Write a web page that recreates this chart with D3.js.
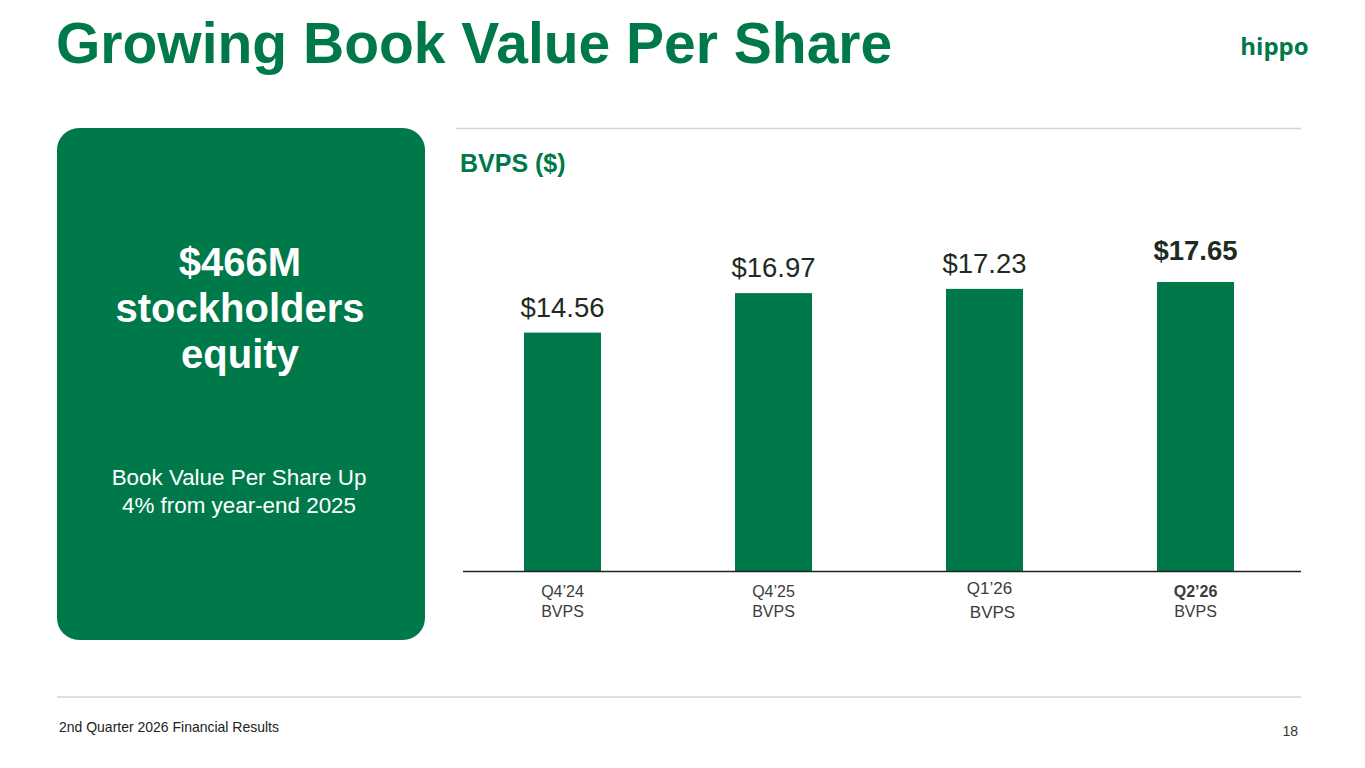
<!DOCTYPE html>
<html>
<head>
<meta charset="utf-8">
<script src="https://cdn.jsdelivr.net/npm/d3@7"></script>
<style>
  body { margin: 0; background: #fff; }
  svg { display: block; font-family: "Liberation Sans", Arial, sans-serif; }
</style>
</head>
<body>
<script>
// data
var quarters = ["Q4\u201924", "Q4\u201925", "Q1\u201926", "Q2\u201926"],
  bvps = [14.56, 16.97, 17.23, 17.65],
  valueLabels = ["$14.56", "$16.97", "$17.23", "$17.65"],
  subLabels = ["BVPS", "BVPS", "BVPS", "BVPS"];

var width = 1365,
  height = 768,
  green = "#00794a",
  ink = "#1e2b22";

var svg = d3.select("body")
  .append("svg")
  .attr("width", width)
  .attr("height", height);

//----------Title + logo----------
svg.append("text")
  .attr("x", 56)
  .attr("y", 63)
  .attr("fill", green)
  .style("font-size", "57px")
  .style("font-weight", "bold")
  .text("Growing Book Value Per Share");

svg.append("text")
  .attr("x", 1274.5)
  .attr("y", 55)
  .attr("text-anchor", "middle")
  .attr("fill", green)
  .style("font-family", "'Open Sans', sans-serif")
  .style("font-size", "24px")
  .style("font-weight", "bold")
  .text("hippo");

//----------Left panel----------
svg.append("rect")
  .attr("x", 57)
  .attr("y", 128)
  .attr("width", 368)
  .attr("height", 512)
  .attr("rx", 22)
  .attr("fill", green);

var big = ["$466M", "stockholders", "equity"];
svg.append("g").selectAll("text")
  .data(big)
  .enter()
  .append("text")
  .attr("x", 240)
  .attr("y", function (d, i) { return 276 + i * 46; })
  .attr("text-anchor", "middle")
  .attr("fill", "#fff")
  .style("font-size", "40px")
  .style("font-weight", "bold")
  .text(function (d) { return d; });

var small = ["Book Value Per Share Up", "4% from year-end 2025"];
svg.append("g").selectAll("text")
  .data(small)
  .enter()
  .append("text")
  .attr("x", 239)
  .attr("y", function (d, i) { return 485 + i * 28; })
  .attr("text-anchor", "middle")
  .attr("fill", "#fff")
  .style("font-size", "22.4px")
  .text(function (d) { return d; });

//----------Chart----------
svg.append("line")
  .attr("x1", 456).attr("x2", 1301)
  .attr("y1", 128.5).attr("y2", 128.5)
  .attr("stroke", "#d4d4d4")
  .attr("stroke-width", 1.5);

svg.append("text")
  .attr("x", 460)
  .attr("y", 172)
  .attr("fill", green)
  .style("font-size", "25px")
  .style("font-weight", "bold")
  .text("BVPS ($)");

var baseY = 571;

var xScale = d3.scaleBand()
  .domain(quarters)
  .range([457, 1301])
  .paddingInner(0.635)
  .paddingOuter(0.3175);

var yScale = d3.scaleLinear()
  .domain([0, 17.65])
  .range([baseY, 282]);

svg.selectAll("rect.bar")
  .data(bvps)
  .enter()
  .append("rect")
  .attr("class", "bar")
  .attr("x", function (d, i) { return xScale(quarters[i]); })
  .attr("y", function (d) { return yScale(d); })
  .attr("width", xScale.bandwidth())
  .attr("height", function (d) { return baseY - yScale(d); })
  .attr("fill", green);

svg.selectAll("text.val")
  .data(bvps)
  .enter()
  .append("text")
  .attr("class", "val")
  .attr("x", function (d, i) { return xScale(quarters[i]) + xScale.bandwidth() / 2; })
  .attr("y", function (d, i) { return yScale(d) - (i === 3 ? 22 : 16); })
  .attr("text-anchor", "middle")
  .attr("fill", ink)
  .style("font-size", "27.5px")
  .style("font-weight", function (d, i) { return i === 3 ? "bold" : "normal"; })
  .text(function (d, i) { return valueLabels[i]; });

// axis with no ticks, just the baseline and two-line labels
var xAxis = d3.axisBottom(xScale).tickSize(0).tickFormat("");
var axisG = svg.append("g")
  .attr("transform", "translate(0," + baseY + ")")
  .call(xAxis);
axisG.select(".domain")
  .attr("d", "M463,0.5H1301")
  .attr("stroke", "#222")
  .attr("stroke-width", 1.6);

axisG.selectAll(".tick").each(function (d, i) {
  var t = d3.select(this);
  var q1 = i === 2;
  t.append("text")
    .attr("x", q1 ? 5 : 0)
    .attr("y", q1 ? 23 : 26)
    .attr("text-anchor", "middle")
    .attr("fill", "#3c3c3c")
    .style("font-size", q1 ? "17px" : "16px")
    .style("font-weight", i === 3 ? "bold" : "normal")
    .text(quarters[i]);
  t.append("text")
    .attr("x", q1 ? 8 : 0)
    .attr("y", q1 ? 47 : 46)
    .attr("text-anchor", "middle")
    .attr("fill", "#3c3c3c")
    .style("font-size", q1 ? "17px" : "16px")
    .text(subLabels[i]);
});

//----------Footer----------
svg.append("line")
  .attr("x1", 57).attr("x2", 1301)
  .attr("y1", 697).attr("y2", 697)
  .attr("stroke", "#d4d4d4")
  .attr("stroke-width", 1.5);

svg.append("text")
  .attr("x", 59)
  .attr("y", 732)
  .attr("fill", "#222")
  .attr("textLength", 220)
  .attr("lengthAdjust", "spacingAndGlyphs")
  .style("font-size", "15px")
  .text("2nd Quarter 2026 Financial Results");

svg.append("text")
  .attr("x", 1298)
  .attr("y", 736)
  .attr("text-anchor", "end")
  .attr("fill", "#333")
  .style("font-size", "14px")
  .text("18");
</script>
</body>
</html>
